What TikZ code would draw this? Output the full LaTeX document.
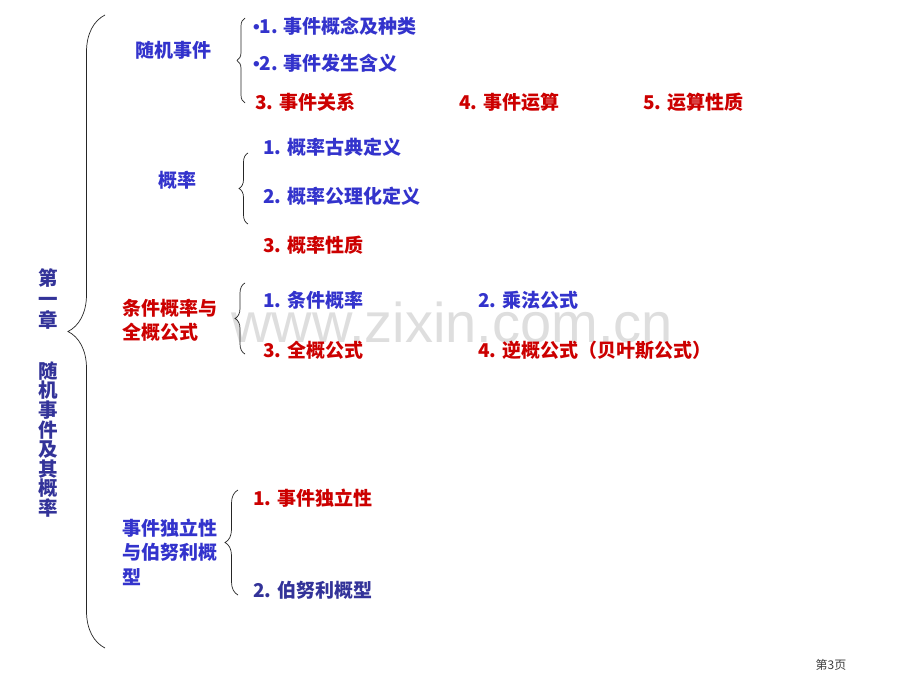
\documentclass[tikz,border=0pt]{standalone}
\usepackage{fontspec}
\setmainfont{Noto Sans CJK SC}
\newfontfamily\wmfont{Liberation Sans}
\usetikzlibrary{decorations.pathreplacing}
\definecolor{chapblue}{RGB}{51,51,153}
\definecolor{itemblue}{RGB}{51,51,204}
\definecolor{itemred}{RGB}{204,0,0}
\definecolor{wmgray}{RGB}{222,222,222}
\newcommand{\itembullet}{{\wmfont\bfseries •}}

\begin{document}
\begin{tikzpicture}[x=1pt, y=-1pt,
  lbl/.style={anchor=west, inner sep=0pt, font=\fontsize{19}{24.5}\selectfont\bfseries, align=left},
  bluelbl/.style={lbl, text=itemblue},
  redlbl/.style={lbl, text=itemred},
  chaplbl/.style={inner sep=0pt, text=chapblue, align=center, font=\fontsize{19.5}{#1}\selectfont\bfseries},
  bracepath/.style={draw=black!85, line width=0.7pt, decorate, decoration={brace, amplitude=#1}}]
\fill[white] (0,0) rectangle (920,690);
\useasboundingbox (0,0) rectangle (920,690);
% watermark
\node[anchor=base west, inner sep=0pt, font=\wmfont\fontsize{56}{56}\selectfont, text=wmgray] (wm) at (231,342) {www.zixin.com.cn};
% chapter title
\node[chaplbl=21] (chap) at (48,299) {第\\一\\章};
\node[chaplbl=19.6] (chaptitle) at (48,439.5) {随\\机\\事\\件\\及\\其\\概\\率};
\draw[bracepath=37] (105,648) -- (105,15);
% sections
\node[bluelbl] (events) at (135,50) {随机事件};
\node[bluelbl] (prob) at (158,180) {概率};
\node[redlbl] (condprob) at (122,320.5) {条件概率与\\全概公式};
\node[bluelbl] (indep) at (122,552) {事件独立性\\与伯努利概\\型};
% braces
\draw[bracepath=8] (245,103) -- (245,18);
\draw[bracepath=9] (248,224) -- (248,153);
\draw[bracepath=10] (245,354) -- (245,283);
\draw[bracepath=13] (238,595) -- (238,490);
% items
\node[bluelbl] (ev1) at (253,26) {\itembullet1. 事件概念及种类};
\node[bluelbl] (ev2) at (253,63) {\itembullet2. 事件发生含义};
\node[redlbl] (ev3) at (255,102) {3. 事件关系};
\node[redlbl] (ev4) at (459,102) {4. 事件运算};
\node[redlbl] (ev5) at (643,102) {5. 运算性质};
\node[bluelbl] (pr1) at (263,147) {1. 概率古典定义};
\node[bluelbl] (pr2) at (263,196) {2. 概率公理化定义};
\node[redlbl] (pr3) at (263,245) {3. 概率性质};
\node[bluelbl] (cp1) at (263,300) {1. 条件概率};
\node[bluelbl] (cp2) at (478,300) {2. 乘法公式};
\node[redlbl] (cp3) at (263,350) {3. 全概公式};
\node[redlbl] (cp4) at (478,350) {4. 逆概公式（贝叶斯公式）};
\node[redlbl] (in1) at (253,498) {1. 事件独立性};
\node[lbl, text=chapblue] (in2) at (253,590) {2. 伯努利概型};
% page number
\node[inner sep=0pt, font=\fontsize{12}{12}\selectfont, text=black!75] (pageno) at (831,665) {第3页};
\end{tikzpicture}
\end{document}
